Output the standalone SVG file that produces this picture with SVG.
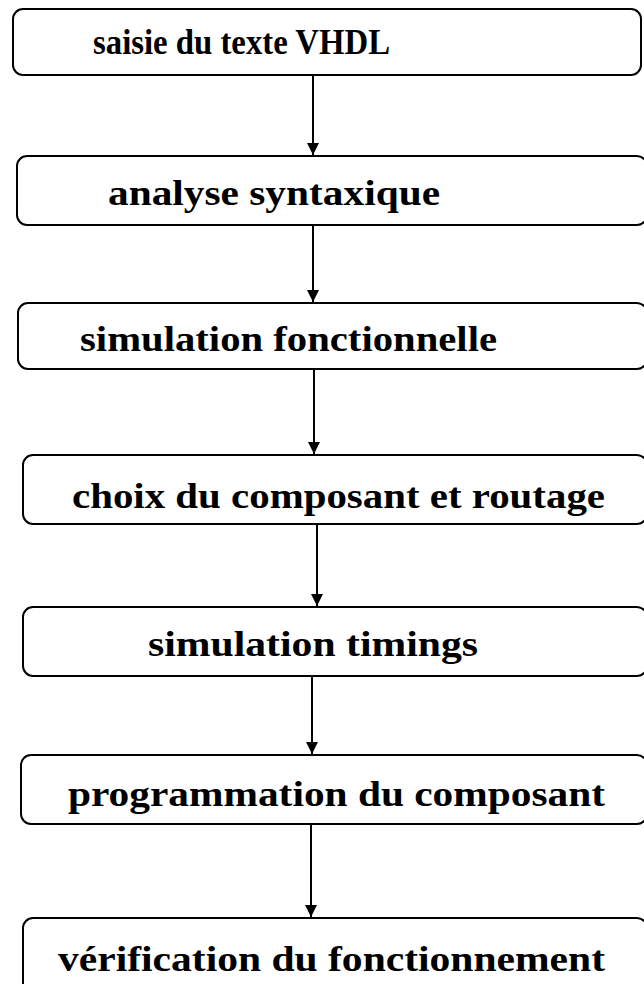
<svg xmlns="http://www.w3.org/2000/svg" width="644" height="984" viewBox="0 0 644 984">
<style>
.box{fill:#fff;stroke:#000;stroke-width:2}
.lbl{font-family:"Liberation Serif","Times New Roman",serif;font-weight:bold;font-size:36px;fill:#000}
.con{stroke:#000;stroke-width:2;fill:none}
</style>
<defs>
<marker id="ad" markerUnits="userSpaceOnUse" markerWidth="14" markerHeight="14" viewBox="0 0 14 14" refX="7" refY="13" orient="0">
<path d="M1,1 L13,1 L7,13 Z" fill="#000"/>
</marker>
</defs>
<rect width="644" height="984" fill="#fff"/>
<g id="connectors">
<line class="con" x1="313" y1="75" x2="313" y2="155" marker-end="url(#ad)"/>
<line class="con" x1="313" y1="225" x2="313" y2="302" marker-end="url(#ad)"/>
<line class="con" x1="314" y1="369" x2="314" y2="454" marker-end="url(#ad)"/>
<line class="con" x1="317" y1="524" x2="317" y2="606" marker-end="url(#ad)"/>
<line class="con" x1="312" y1="676" x2="312" y2="754" marker-end="url(#ad)"/>
<line class="con" x1="311" y1="824" x2="311" y2="917" marker-end="url(#ad)"/>
</g>
<g id="n1">
<rect class="box" x="13" y="9" width="628" height="66" rx="10"/>
<text class="lbl" x="93" y="54" textLength="297" lengthAdjust="spacingAndGlyphs">saisie du texte VHDL</text>
</g>
<g id="n2">
<rect class="box" x="17" y="156" width="630" height="69" rx="10"/>
<text class="lbl" x="108" y="205" textLength="332" lengthAdjust="spacingAndGlyphs">analyse syntaxique</text>
</g>
<g id="n3">
<rect class="box" x="18" y="303" width="629" height="66" rx="10"/>
<text class="lbl" x="80" y="351" textLength="417" lengthAdjust="spacingAndGlyphs">simulation fonctionnelle</text>
</g>
<g id="n4">
<rect class="box" x="23" y="455" width="624" height="69" rx="10"/>
<text class="lbl" x="72" y="508" textLength="533" lengthAdjust="spacingAndGlyphs">choix du composant et routage</text>
</g>
<g id="n5">
<rect class="box" x="23" y="607" width="624" height="69" rx="10"/>
<text class="lbl" x="148" y="656" textLength="330" lengthAdjust="spacingAndGlyphs">simulation timings</text>
</g>
<g id="n6">
<rect class="box" x="21" y="755" width="626" height="69" rx="10"/>
<text class="lbl" x="68" y="806" textLength="537" lengthAdjust="spacingAndGlyphs">programmation du composant</text>
</g>
<g id="n7">
<rect class="box" x="23" y="918" width="624" height="80" rx="10"/>
<text class="lbl" x="58" y="971" textLength="547" lengthAdjust="spacingAndGlyphs">vérification du fonctionnement</text>
</g>
</svg>
